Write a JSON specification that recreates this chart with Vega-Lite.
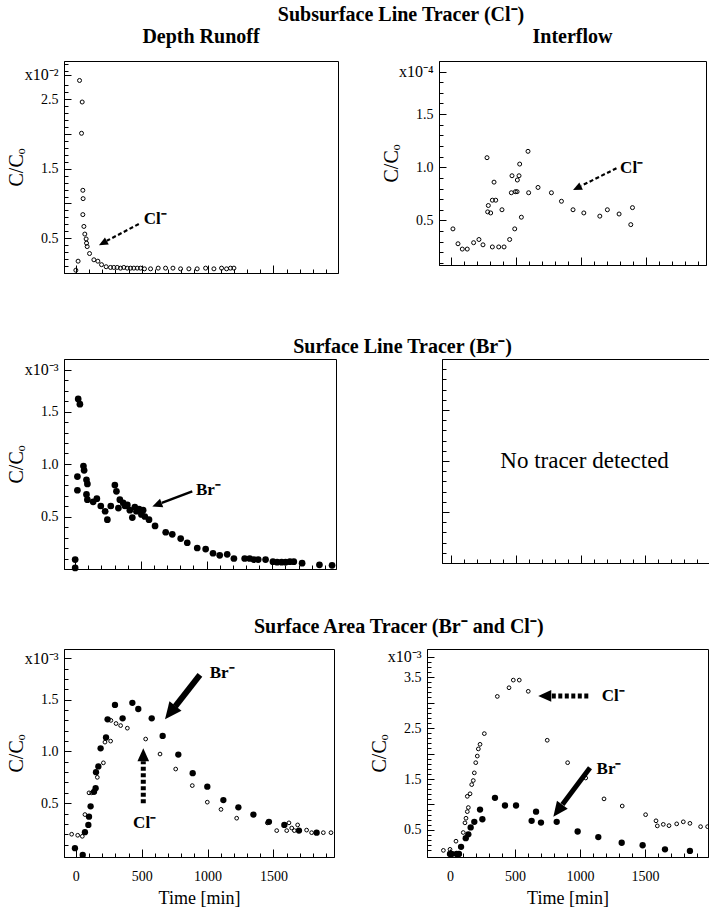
{
  "$schema": "https://vega.github.io/schema/vega-lite/v6.json",
  "background": "white",
  "padding": {"left": 5, "top": 4, "right": 0, "bottom": 0},
  "config": {
    "font": "Liberation Serif",
    "view": {"stroke": "black", "strokeWidth": 1},
    "axis": {"domainColor": "black", "tickColor": "black", "labelColor": "black", "titleColor": "black", "labelFont": "Liberation Serif", "titleFont": "Liberation Serif", "labelFontSize": 14, "titleFontSize": 20, "titleFontWeight": "normal", "grid": false, "domainWidth": 1, "tickWidth": 1, "labelFlush": false, "labelBound": false},
    "axisY": {"titleX": -42, "titleBaseline": "alphabetic", "labelPadding": 13},
    "axisX": {"labelPadding": 20, "titlePadding": 6, "titleFontSize": 18},
    "title": {"font": "Liberation Serif", "fontSize": 20, "fontWeight": "bold", "color": "black"}
  },
  "datasets": {
    "p1": [{"t":0,"c":0.04},{"t":17,"c":0.17},{"t":28,"c":2.77},{"t":48,"c":2.46},{"t":43,"c":2.01},{"t":53,"c":1.19},{"t":55,"c":1.07},{"t":53,"c":0.84},{"t":61,"c":0.67},{"t":68,"c":0.56},{"t":78,"c":0.49},{"t":81,"c":0.43},{"t":86,"c":0.38},{"t":104,"c":0.28},{"t":137,"c":0.19},{"t":167,"c":0.17},{"t":195,"c":0.12},{"t":230,"c":0.09},{"t":263,"c":0.08},{"t":288,"c":0.08},{"t":314,"c":0.08},{"t":339,"c":0.07},{"t":364,"c":0.08},{"t":390,"c":0.07},{"t":415,"c":0.07},{"t":440,"c":0.07},{"t":466,"c":0.07},{"t":491,"c":0.07},{"t":521,"c":0.06},{"t":567,"c":0.06},{"t":625,"c":0.07},{"t":681,"c":0.07},{"t":737,"c":0.07},{"t":795,"c":0.06},{"t":858,"c":0.06},{"t":921,"c":0.06},{"t":985,"c":0.07},{"t":1048,"c":0.06},{"t":1106,"c":0.07},{"t":1144,"c":0.06},{"t":1174,"c":0.07},{"t":1200,"c":0.07}],
    "p2": [{"t":15,"c":0.42},{"t":54,"c":0.28},{"t":87,"c":0.23},{"t":125,"c":0.23},{"t":174,"c":0.29},{"t":215,"c":0.32},{"t":246,"c":0.27},{"t":277,"c":1.09},{"t":287,"c":0.64},{"t":282,"c":0.58},{"t":305,"c":0.57},{"t":318,"c":0.69},{"t":331,"c":0.86},{"t":344,"c":0.69},{"t":318,"c":0.25},{"t":367,"c":0.25},{"t":408,"c":0.25},{"t":392,"c":0.60},{"t":451,"c":0.32},{"t":469,"c":0.92},{"t":464,"c":0.76},{"t":490,"c":0.42},{"t":495,"c":0.77},{"t":508,"c":0.77},{"t":510,"c":0.88},{"t":523,"c":0.92},{"t":528,"c":1.03},{"t":541,"c":0.53},{"t":592,"c":1.15},{"t":597,"c":0.76},{"t":669,"c":0.81},{"t":772,"c":0.76},{"t":849,"c":0.68},{"t":938,"c":0.60},{"t":1021,"c":0.57},{"t":1144,"c":0.54},{"t":1202,"c":0.60},{"t":1292,"c":0.56},{"t":1382,"c":0.46},{"t":1395,"c":0.62}],
    "p3": [{"t":0,"c":0.09},{"t":0,"c":0.01},{"t":23,"c":1.62},{"t":36,"c":1.57},{"t":17,"c":0.88},{"t":17,"c":0.75},{"t":63,"c":0.98},{"t":68,"c":0.94},{"t":86,"c":0.85},{"t":93,"c":0.81},{"t":86,"c":0.71},{"t":93,"c":0.66},{"t":137,"c":0.64},{"t":165,"c":0.67},{"t":195,"c":0.60},{"t":228,"c":0.55},{"t":245,"c":0.47},{"t":271,"c":0.60},{"t":302,"c":0.80},{"t":314,"c":0.74},{"t":340,"c":0.66},{"t":329,"c":0.58},{"t":365,"c":0.63},{"t":380,"c":0.60},{"t":397,"c":0.61},{"t":416,"c":0.56},{"t":435,"c":0.49},{"t":454,"c":0.59},{"t":466,"c":0.55},{"t":486,"c":0.57},{"t":504,"c":0.52},{"t":517,"c":0.56},{"t":530,"c":0.50},{"t":562,"c":0.47},{"t":608,"c":0.41},{"t":689,"c":0.35},{"t":739,"c":0.33},{"t":803,"c":0.29},{"t":853,"c":0.25},{"t":929,"c":0.20},{"t":993,"c":0.19},{"t":1049,"c":0.15},{"t":1100,"c":0.13},{"t":1157,"c":0.14},{"t":1208,"c":0.10},{"t":1290,"c":0.10},{"t":1328,"c":0.10},{"t":1360,"c":0.09},{"t":1393,"c":0.09},{"t":1449,"c":0.09},{"t":1505,"c":0.07},{"t":1537,"c":0.065},{"t":1571,"c":0.065},{"t":1601,"c":0.065},{"t":1634,"c":0.07},{"t":1664,"c":0.07},{"t":1727,"c":0.055},{"t":1859,"c":0.04},{"t":1955,"c":0.035}],
    "p4": [{"t":1030,"c":1.0,"label":"No tracer detected"}],
    "p5": [{"ion":"Cl","t":-32,"c":0.20},{"ion":"Cl","t":14,"c":0.19},{"ion":"Cl","t":49,"c":0.18},{"ion":"Cl","t":69,"c":0.39},{"ion":"Cl","t":100,"c":0.60},{"ion":"Cl","t":120,"c":0.60},{"ion":"Cl","t":163,"c":0.75},{"ion":"Cl","t":209,"c":0.89},{"ion":"Cl","t":221,"c":1.09},{"ion":"Cl","t":264,"c":1.10},{"ion":"Cl","t":266,"c":1.30},{"ion":"Cl","t":305,"c":1.27},{"ion":"Cl","t":340,"c":1.25},{"ion":"Cl","t":391,"c":1.225},{"ion":"Cl","t":530,"c":1.12},{"ion":"Cl","t":639,"c":0.975},{"ion":"Cl","t":758,"c":0.83},{"ion":"Cl","t":884,"c":0.67},{"ion":"Cl","t":998,"c":0.51},{"ion":"Cl","t":1102,"c":0.44},{"ion":"Cl","t":1221,"c":0.355},{"ion":"Cl","t":1454,"c":0.31},{"ion":"Cl","t":1525,"c":0.235},{"ion":"Cl","t":1601,"c":0.235},{"ion":"Cl","t":1618,"c":0.31},{"ion":"Cl","t":1639,"c":0.26},{"ion":"Cl","t":1659,"c":0.235},{"ion":"Cl","t":1684,"c":0.29},{"ion":"Cl","t":1752,"c":0.24},{"ion":"Cl","t":1790,"c":0.215},{"ion":"Cl","t":1879,"c":0.215},{"ion":"Cl","t":1937,"c":0.215},
      {"ion":"Br","t":-7,"c":0.065},{"ion":"Br","t":52,"c":0.0},{"ion":"Br","t":69,"c":0.22},{"ion":"Br","t":95,"c":0.29},{"ion":"Br","t":100,"c":0.37},{"ion":"Br","t":112,"c":0.47},{"ion":"Br","t":138,"c":0.61},{"ion":"Br","t":150,"c":0.645},{"ion":"Br","t":153,"c":0.80},{"ion":"Br","t":171,"c":0.855},{"ion":"Br","t":188,"c":1.03},{"ion":"Br","t":229,"c":1.135},{"ion":"Br","t":241,"c":1.31},{"ion":"Br","t":297,"c":1.45},{"ion":"Br","t":355,"c":1.32},{"ion":"Br","t":429,"c":1.47},{"ion":"Br","t":474,"c":1.41},{"ion":"Br","t":576,"c":1.32},{"ion":"Br","t":659,"c":1.15},{"ion":"Br","t":778,"c":0.97},{"ion":"Br","t":887,"c":0.79},{"ion":"Br","t":998,"c":0.66},{"ion":"Br","t":1120,"c":0.53},{"ion":"Br","t":1234,"c":0.46},{"ion":"Br","t":1348,"c":0.39},{"ion":"Br","t":1466,"c":0.32},{"ion":"Br","t":1583,"c":0.29},{"ion":"Br","t":1694,"c":0.235},{"ion":"Br","t":1828,"c":0.215}],
    "p6": [{"ion":"Cl","t":-51,"c":0.10},{"ion":"Cl","t":0,"c":0.12},{"ion":"Cl","t":46,"c":0.28},{"ion":"Cl","t":102,"c":0.45},{"ion":"Cl","t":115,"c":0.64},{"ion":"Cl","t":123,"c":0.73},{"ion":"Cl","t":133,"c":0.86},{"ion":"Cl","t":141,"c":0.94},{"ion":"Cl","t":133,"c":1.16},{"ion":"Cl","t":154,"c":1.21},{"ion":"Cl","t":167,"c":1.39},{"ion":"Cl","t":179,"c":1.47},{"ion":"Cl","t":187,"c":1.62},{"ion":"Cl","t":198,"c":1.82},{"ion":"Cl","t":210,"c":1.95},{"ion":"Cl","t":218,"c":2.09},{"ion":"Cl","t":231,"c":2.18},{"ion":"Cl","t":264,"c":2.39},{"ion":"Cl","t":364,"c":3.12},{"ion":"Cl","t":454,"c":3.29},{"ion":"Cl","t":487,"c":3.44},{"ion":"Cl","t":533,"c":3.44},{"ion":"Cl","t":602,"c":3.22},{"ion":"Cl","t":748,"c":2.26},{"ion":"Cl","t":905,"c":1.82},{"ion":"Cl","t":1044,"c":1.52},{"ion":"Cl","t":1185,"c":1.11},{"ion":"Cl","t":1325,"c":0.97},{"ion":"Cl","t":1505,"c":0.80},{"ion":"Cl","t":1585,"c":0.68},{"ion":"Cl","t":1595,"c":0.58},{"ion":"Cl","t":1641,"c":0.61},{"ion":"Cl","t":1685,"c":0.585},{"ion":"Cl","t":1744,"c":0.62},{"ion":"Cl","t":1795,"c":0.66},{"ion":"Cl","t":1846,"c":0.63},{"ion":"Cl","t":1928,"c":0.565},{"ion":"Cl","t":1982,"c":0.565},
      {"ion":"Br","t":0,"c":0.03},{"ion":"Br","t":13,"c":0.03},{"ion":"Br","t":51,"c":0.03},{"ion":"Br","t":69,"c":0.03},{"ion":"Br","t":85,"c":0.17},{"ion":"Br","t":121,"c":0.34},{"ion":"Br","t":141,"c":0.415},{"ion":"Br","t":159,"c":0.55},{"ion":"Br","t":187,"c":0.66},{"ion":"Br","t":231,"c":0.90},{"ion":"Br","t":249,"c":0.71},{"ion":"Br","t":346,"c":1.13},{"ion":"Br","t":423,"c":0.98},{"ion":"Br","t":508,"c":0.98},{"ion":"Br","t":628,"c":0.68},{"ion":"Br","t":662,"c":0.86},{"ion":"Br","t":700,"c":0.645},{"ion":"Br","t":821,"c":0.66},{"ion":"Br","t":982,"c":0.47},{"ion":"Br","t":1141,"c":0.36},{"ion":"Br","t":1321,"c":0.25},{"ion":"Br","t":1482,"c":0.20},{"ion":"Br","t":1654,"c":0.12},{"ion":"Br","t":1846,"c":0.09}],
    "a1": [{"t":478,"c":0.705,"tb":235,"cb":0.463,"th":175,"ch":0.40,"lt":516,"lc":0.78,"label":"Cl⁻"}],
    "a2": [{"t":1272,"c":0.99,"tb":1001,"cb":0.825,"th":938,"ch":0.786,"lt":1300,"lc":0.995,"label":"Cl⁻"}],
    "a3": [{"t":891,"c":0.74,"tb":659,"cb":0.629,"th":587,"ch":0.595,"lt":919,"lc":0.75,"label":"Br⁻"}],
    "a5br": [{"t":942,"c":1.74,"tb":755,"cb":1.435,"th":677,"ch":1.31,"lt":1016,"lc":1.76,"label":"Br⁻"}],
    "a5cl": [{"t":512,"c":0.50,"tb":512,"cb":0.906,"th":512,"ch":1.03,"lt":522,"lc":0.31,"label":"Cl⁻"}],
    "a6cl": [{"t":1064,"c":3.13,"tb":779,"cb":3.13,"th":679,"ch":3.13,"lt":1167,"lc":3.13,"label":"Cl⁻"}],
    "a6br": [{"t":1077,"c":1.72,"tb":865,"cb":1.0,"th":795,"ch":0.76,"lt":1128,"lc":1.69,"label":"Br⁻"}]
  },
  "spacing": 45,
  "vconcat": [
    {
      "spacing": 61,
      "vconcat": [
        {
          "title": {"text": "Subsurface Line Tracer (Cl⁻)", "anchor": "middle", "dx": 45, "offset": 2},
          "spacing": 41,
          "hconcat": [
            {
              "title": {"text": "Depth Runoff", "fontSize": 20, "offset": 14},
              "width": 274, "height": 212,
              "resolve": {"axis": {"x": "independent", "y": "independent"}},
              "layer": [
                {"data": {"name": "p1"}, "mark": {"type": "point", "shape": "circle", "filled": false, "stroke": "black", "strokeWidth": 1, "size": 16, "opacity": 1},
                 "encoding": {
                   "x": {"field": "t", "type": "quantitative", "scale": {"domain": [-90, 1990], "nice": false, "zero": false},
                         "axis": {"orient": "bottom", "values": [0, 500, 1000, 1500], "labels": false, "title": null, "tickSize": -8}},
                   "y": {"field": "c", "type": "quantitative", "scale": {"domain": [0, 3.05], "nice": false, "zero": false},
                         "axis": {"orient": "left", "values": [0.5, 1.0, 1.5, 2.0, 2.5, 2.85],
                                  "labelExpr": "datum.value == 2.85 ? 'x10⁻²' : ((datum.value == 0.5 || datum.value == 1.5 || datum.value == 2.5) ? format(datum.value, '.1f') : '')",
                                  "labelFontSize": {"condition": {"test": "datum.value == 2.85", "value": 16}, "value": 14},
                                  "tickSize": -7, "title": "C/Cₒ"}}
                 }},
                {"data": {"name": "a1"}, "mark": {"type": "rule", "strokeWidth": 2.2, "strokeDash": [4, 2.5], "color": "black"},
                 "encoding": {"x": {"field": "t", "type": "quantitative", "axis": {"orient": "bottom", "values": [100,200,300,400,600,700,800,900,1100,1200,1300,1400,1600,1700,1800,1900], "labels": false, "title": null, "domain": false, "tickSize": -4}},
                              "y": {"field": "c", "type": "quantitative", "axis": {"orient": "left", "values": [0.1,0.2,0.3,0.4,0.6,0.7,0.8,0.9,1.1,1.2,1.3,1.4,1.6,1.7,1.8,1.9,2.1,2.2,2.3,2.4,2.6,2.7,2.9,3.0], "labels": false, "title": null, "domain": false, "tickSize": -4}},
                              "x2": {"field": "tb"}, "y2": {"field": "cb"}}},
                {"data": {"name": "a1"}, "mark": {"type": "point", "shape": "M0,0L-0.9,2L0.9,2Z", "filled": true, "color": "black", "opacity": 1, "size": 81, "angle": 242},
                 "encoding": {"x": {"field": "th", "type": "quantitative", "axis": null}, "y": {"field": "ch", "type": "quantitative", "axis": null}}},
                {"data": {"name": "a1"}, "mark": {"type": "text", "align": "left", "baseline": "middle", "font": "Liberation Serif", "fontSize": 17, "fontWeight": "bold", "color": "black"},
                 "encoding": {"x": {"field": "lt", "type": "quantitative", "axis": null}, "y": {"field": "lc", "type": "quantitative", "axis": null}, "text": {"field": "label"}}}
              ]
            },
            {
              "title": {"text": "Interflow", "fontSize": 20, "offset": 14},
              "width": 267, "height": 204,
              "resolve": {"axis": {"x": "independent", "y": "independent"}},
              "layer": [
                {"data": {"name": "p2"}, "mark": {"type": "point", "shape": "circle", "filled": false, "stroke": "black", "strokeWidth": 1, "size": 16, "opacity": 1},
                 "encoding": {
                   "x": {"field": "t", "type": "quantitative", "scale": {"domain": [-92, 1960], "nice": false, "zero": false},
                         "axis": {"orient": "bottom", "values": [0, 500, 1000, 1500], "labels": false, "title": null, "tickSize": -8}},
                   "y": {"field": "c", "type": "quantitative", "scale": {"domain": [0.08, 2.0], "nice": false, "zero": false},
                         "axis": {"orient": "left", "values": [0.5, 1.0, 1.5, 1.9],
                                  "labelExpr": "datum.value == 1.9 ? 'x10⁻⁴' : format(datum.value, '.1f')",
                                  "labelFontSize": {"condition": {"test": "datum.value == 1.9", "value": 16}, "value": 14},
                                  "tickSize": -7, "title": "C/Cₒ"}}
                 }},
                {"data": {"name": "a2"}, "mark": {"type": "rule", "strokeWidth": 2.2, "strokeDash": [4, 2.5], "color": "black"},
                 "encoding": {"x": {"field": "t", "type": "quantitative", "axis": {"orient": "bottom", "values": [100,200,300,400,600,700,800,900,1100,1200,1300,1400,1600,1700,1800,1900], "labels": false, "title": null, "domain": false, "tickSize": -4}},
                              "y": {"field": "c", "type": "quantitative", "axis": {"orient": "left", "values": [0.1,0.2,0.3,0.4,0.6,0.7,0.8,0.9,1.1,1.2,1.3,1.4,1.6,1.7,1.8], "labels": false, "title": null, "domain": false, "tickSize": -4}},
                              "x2": {"field": "tb"}, "y2": {"field": "cb"}}},
                {"data": {"name": "a2"}, "mark": {"type": "point", "shape": "M0,0L-0.9,2L0.9,2Z", "filled": true, "color": "black", "opacity": 1, "size": 81, "angle": 244},
                 "encoding": {"x": {"field": "th", "type": "quantitative", "axis": null}, "y": {"field": "ch", "type": "quantitative", "axis": null}}},
                {"data": {"name": "a2"}, "mark": {"type": "text", "align": "left", "baseline": "middle", "font": "Liberation Serif", "fontSize": 17, "fontWeight": "bold", "color": "black"},
                 "encoding": {"x": {"field": "lt", "type": "quantitative", "axis": null}, "y": {"field": "lc", "type": "quantitative", "axis": null}, "text": {"field": "label"}}}
              ]
            }
          ]
        },
        {
          "title": {"text": "Surface Line Tracer (Br⁻)", "anchor": "middle", "dx": 45, "offset": 2},
          "spacing": 104,
          "hconcat": [
            {
              "width": 272, "height": 210,
              "resolve": {"axis": {"x": "independent", "y": "independent"}},
              "layer": [
                {"data": {"name": "p3"}, "mark": {"type": "point", "shape": "circle", "filled": true, "color": "black", "size": 45, "opacity": 1},
                 "encoding": {
                   "x": {"field": "t", "type": "quantitative", "scale": {"domain": [-85, 1985], "nice": false, "zero": false},
                         "axis": {"orient": "bottom", "values": [0, 500, 1000, 1500], "labels": false, "title": null, "tickSize": -8}},
                   "y": {"field": "c", "type": "quantitative", "scale": {"domain": [0, 2.0], "nice": false, "zero": false},
                         "axis": {"orient": "left", "values": [0.5, 1.0, 1.5, 1.9],
                                  "labelExpr": "datum.value == 1.9 ? 'x10⁻³' : format(datum.value, '.1f')",
                                  "labelFontSize": {"condition": {"test": "datum.value == 1.9", "value": 16}, "value": 14},
                                  "tickSize": -7, "title": "C/Cₒ"}}
                 }},
                {"data": {"name": "a3"}, "mark": {"type": "rule", "strokeWidth": 2.5, "color": "black"},
                 "encoding": {"x": {"field": "t", "type": "quantitative", "axis": {"orient": "bottom", "values": [100,200,300,400,600,700,800,900,1100,1200,1300,1400,1600,1700,1800,1900], "labels": false, "title": null, "domain": false, "tickSize": -4}},
                              "y": {"field": "c", "type": "quantitative", "axis": {"orient": "left", "values": [0.1,0.2,0.3,0.4,0.6,0.7,0.8,0.9,1.1,1.2,1.3,1.4,1.6,1.7,1.8], "labels": false, "title": null, "domain": false, "tickSize": -4}},
                              "x2": {"field": "tb"}, "y2": {"field": "cb"}}},
                {"data": {"name": "a3"}, "mark": {"type": "point", "shape": "M0,0L-0.9,2L0.9,2Z", "filled": true, "color": "black", "opacity": 1, "size": 100, "angle": 249},
                 "encoding": {"x": {"field": "th", "type": "quantitative", "axis": null}, "y": {"field": "ch", "type": "quantitative", "axis": null}}},
                {"data": {"name": "a3"}, "mark": {"type": "text", "align": "left", "baseline": "middle", "font": "Liberation Serif", "fontSize": 17, "fontWeight": "bold", "color": "black"},
                 "encoding": {"x": {"field": "lt", "type": "quantitative", "axis": null}, "y": {"field": "lc", "type": "quantitative", "axis": null}, "text": {"field": "label"}}}
              ]
            },
            {
              "width": 267, "height": 204,
              "data": {"name": "p4"},
              "mark": {"type": "text", "align": "center", "baseline": "middle", "font": "Liberation Serif", "fontSize": 23, "color": "black"},
              "encoding": {
                "x": {"field": "t", "type": "quantitative", "scale": {"domain": [-70, 1990], "nice": false, "zero": false},
                      "axis": {"values": [0,100,200,300,400,500,600,700,800,900,1000,1100,1200,1300,1400,1500,1600,1700,1800,1900], "labels": false, "title": null, "tickSize": {"condition": {"test": "datum.value % 500 === 0", "value": -8}, "value": -4}}},
                "y": {"field": "c", "type": "quantitative", "scale": {"domain": [0, 2.0], "nice": false, "zero": false},
                      "axis": {"values": [0.1,0.2,0.3,0.4,0.5,0.6,0.7,0.8,0.9,1.0,1.1,1.2,1.3,1.4,1.5,1.6,1.7,1.8,1.9], "labels": false, "title": null,
                               "tickSize": {"condition": {"test": "datum.value * 2 == round(datum.value * 2)", "value": -7}, "value": -4}}},
                "text": {"field": "label"}
              }
            }
          ]
        }
      ]
    },
    {
      "title": {"text": "Surface Area Tracer (Br⁻ and Cl⁻)", "anchor": "middle", "dx": 40, "offset": 11},
      "spacing": 32,
      "hconcat": [
        {
          "width": 270, "height": 208,
          "resolve": {"axis": {"x": "independent", "y": "independent"}},
          "layer": [
            {"data": {"name": "p5"}, "transform": [{"filter": "datum.ion === 'Cl'"}], "mark": {"type": "point", "shape": "circle", "filled": false, "stroke": "black", "strokeWidth": 1, "size": 14, "opacity": 1},
             "encoding": {
               "x": {"field": "t", "type": "quantitative", "scale": {"domain": [-90, 1960], "nice": false, "zero": false},
                     "axis": {"orient": "bottom", "values": [0, 500, 1000, 1500], "format": "d", "title": "Time [min]", "tickSize": -8}},
               "y": {"field": "c", "type": "quantitative", "scale": {"domain": [-0.02, 1.99], "nice": false, "zero": false},
                     "axis": {"orient": "left", "values": [0.5, 1.0, 1.5, 1.9],
                              "labelExpr": "datum.value == 1.9 ? 'x10⁻³' : format(datum.value, '.1f')",
                              "labelFontSize": {"condition": {"test": "datum.value == 1.9", "value": 16}, "value": 14},
                              "tickSize": -7, "title": "C/Cₒ"}}
             }},
            {"data": {"name": "p5"}, "transform": [{"filter": "datum.ion === 'Br'"}], "mark": {"type": "point", "shape": "circle", "filled": true, "color": "black", "size": 40, "opacity": 1},
             "encoding": {"x": {"field": "t", "type": "quantitative", "axis": {"orient": "bottom", "values": [100,200,300,400,600,700,800,900,1100,1200,1300,1400,1600,1700,1800,1900], "labels": false, "title": null, "domain": false, "tickSize": -4}},
                          "y": {"field": "c", "type": "quantitative", "axis": {"orient": "left", "values": [0.1,0.2,0.3,0.4,0.6,0.7,0.8,0.9,1.1,1.2,1.3,1.4,1.6,1.7,1.8], "labels": false, "title": null, "domain": false, "tickSize": -4}}}},
            {"data": {"name": "a5br"}, "mark": {"type": "rule", "strokeWidth": 6, "color": "black"},
             "encoding": {"x": {"field": "t", "type": "quantitative", "axis": null}, "y": {"field": "c", "type": "quantitative", "axis": null}, "x2": {"field": "tb"}, "y2": {"field": "cb"}}},
            {"data": {"name": "a5br"}, "mark": {"type": "point", "shape": "M0,0L-0.9,2L0.9,2Z", "filled": true, "color": "black", "opacity": 1, "size": 289, "angle": 218},
             "encoding": {"x": {"field": "th", "type": "quantitative", "axis": null}, "y": {"field": "ch", "type": "quantitative", "axis": null}}},
            {"data": {"name": "a5br"}, "mark": {"type": "text", "align": "left", "baseline": "middle", "font": "Liberation Serif", "fontSize": 17, "fontWeight": "bold", "color": "black"},
             "encoding": {"x": {"field": "lt", "type": "quantitative", "axis": null}, "y": {"field": "lc", "type": "quantitative", "axis": null}, "text": {"field": "label"}}},
            {"data": {"name": "a5cl"}, "mark": {"type": "rule", "strokeWidth": 5, "strokeDash": [4, 2.5], "color": "black"},
             "encoding": {"x": {"field": "t", "type": "quantitative", "axis": null}, "y": {"field": "c", "type": "quantitative", "axis": null}, "x2": {"field": "tb"}, "y2": {"field": "cb"}}},
            {"data": {"name": "a5cl"}, "mark": {"type": "point", "shape": "M0,0L-0.9,2L0.9,2Z", "filled": true, "color": "black", "opacity": 1, "size": 169, "angle": 0},
             "encoding": {"x": {"field": "th", "type": "quantitative", "axis": null}, "y": {"field": "ch", "type": "quantitative", "axis": null}}},
            {"data": {"name": "a5cl"}, "mark": {"type": "text", "align": "center", "baseline": "middle", "font": "Liberation Serif", "fontSize": 17, "fontWeight": "bold", "color": "black"},
             "encoding": {"x": {"field": "lt", "type": "quantitative", "axis": null}, "y": {"field": "lc", "type": "quantitative", "axis": null}, "text": {"field": "label"}}}
          ]
        },
        {
          "width": 281, "height": 208,
          "resolve": {"axis": {"x": "independent", "y": "independent"}},
          "layer": [
            {"data": {"name": "p6"}, "transform": [{"filter": "datum.ion === 'Cl'"}], "mark": {"type": "point", "shape": "circle", "filled": false, "stroke": "black", "strokeWidth": 1, "size": 14, "opacity": 1},
             "encoding": {
               "x": {"field": "t", "type": "quantitative", "scale": {"domain": [-177, 1985], "nice": false, "zero": false},
                     "axis": {"orient": "bottom", "values": [0, 500, 1000, 1500], "format": "d", "title": "Time [min]", "tickSize": -8}},
               "y": {"field": "c", "type": "quantitative", "scale": {"domain": [-0.03, 4.05], "nice": false, "zero": false},
                     "axis": {"orient": "left", "values": [0.5, 1.0, 1.5, 2.0, 2.5, 3.0, 3.5, 3.9],
                              "labelExpr": "datum.value == 3.9 ? 'x10⁻³' : ((datum.value == 0.5 || datum.value == 1.5 || datum.value == 2.5 || datum.value == 3.5) ? format(datum.value, '.1f') : '')",
                              "labelFontSize": {"condition": {"test": "datum.value == 3.9", "value": 16}, "value": 14},
                              "tickSize": -7, "title": "C/Cₒ"}}
             }},
            {"data": {"name": "p6"}, "transform": [{"filter": "datum.ion === 'Br'"}], "mark": {"type": "point", "shape": "circle", "filled": true, "color": "black", "size": 40, "opacity": 1},
             "encoding": {"x": {"field": "t", "type": "quantitative", "axis": {"orient": "bottom", "values": [100,200,300,400,600,700,800,900,1100,1200,1300,1400,1600,1700,1800,1900], "labels": false, "title": null, "domain": false, "tickSize": -4}},
                          "y": {"field": "c", "type": "quantitative", "axis": {"orient": "left", "values": [0.1,0.2,0.3,0.4,0.6,0.7,0.8,0.9,1.1,1.2,1.3,1.4,1.6,1.7,1.8,1.9,2.1,2.2,2.3,2.4,2.6,2.7,2.8,2.9,3.1,3.2,3.3,3.4,3.6,3.7,3.8], "labels": false, "title": null, "domain": false, "tickSize": -4}}}},
            {"data": {"name": "a6cl"}, "mark": {"type": "rule", "strokeWidth": 5, "strokeDash": [4, 2.5], "color": "black"},
             "encoding": {"x": {"field": "t", "type": "quantitative", "axis": null}, "y": {"field": "c", "type": "quantitative", "axis": null}, "x2": {"field": "tb"}, "y2": {"field": "cb"}}},
            {"data": {"name": "a6cl"}, "mark": {"type": "point", "shape": "M0,0L-0.9,2L0.9,2Z", "filled": true, "color": "black", "opacity": 1, "size": 169, "angle": 270},
             "encoding": {"x": {"field": "th", "type": "quantitative", "axis": null}, "y": {"field": "ch", "type": "quantitative", "axis": null}}},
            {"data": {"name": "a6cl"}, "mark": {"type": "text", "align": "left", "baseline": "middle", "font": "Liberation Serif", "fontSize": 17, "fontWeight": "bold", "color": "black"},
             "encoding": {"x": {"field": "lt", "type": "quantitative", "axis": null}, "y": {"field": "lc", "type": "quantitative", "axis": null}, "text": {"field": "label"}}},
            {"data": {"name": "a6br"}, "mark": {"type": "rule", "strokeWidth": 5, "color": "black"},
             "encoding": {"x": {"field": "t", "type": "quantitative", "axis": null}, "y": {"field": "c", "type": "quantitative", "axis": null}, "x2": {"field": "tb"}, "y2": {"field": "cb"}}},
            {"data": {"name": "a6br"}, "mark": {"type": "point", "shape": "M0,0L-0.9,2L0.9,2Z", "filled": true, "color": "black", "opacity": 1, "size": 225, "angle": 217},
             "encoding": {"x": {"field": "th", "type": "quantitative", "axis": null}, "y": {"field": "ch", "type": "quantitative", "axis": null}}},
            {"data": {"name": "a6br"}, "mark": {"type": "text", "align": "left", "baseline": "middle", "font": "Liberation Serif", "fontSize": 17, "fontWeight": "bold", "color": "black"},
             "encoding": {"x": {"field": "lt", "type": "quantitative", "axis": null}, "y": {"field": "lc", "type": "quantitative", "axis": null}, "text": {"field": "label"}}}
          ]
        }
      ]
    }
  ]
}
